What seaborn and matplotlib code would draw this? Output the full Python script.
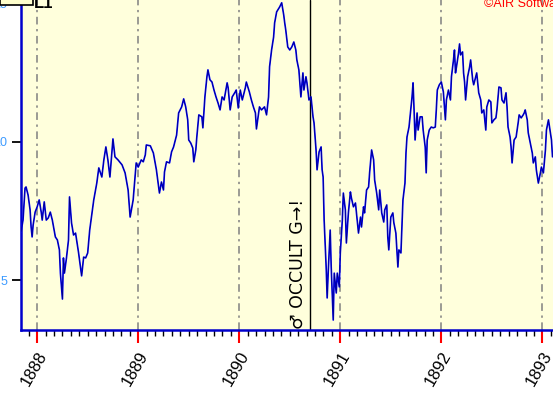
import numpy as np
import pandas as pd
import matplotlib
matplotlib.use('Agg')
import matplotlib.pyplot as plt
import seaborn as sns
from matplotlib.ticker import FixedLocator, MultipleLocator
from matplotlib.patches import Rectangle

sns.set_style('white')
plt.rcParams['font.family'] = ['Liberation Sans', 'DejaVu Sans']

# price series (decimal year, value)
years = [
    1887.84, 1887.86, 1887.88, 1887.89, 1887.91, 1887.93, 1887.94, 1887.95, 1887.96, 1887.98,
    1888.00, 1888.02, 1888.04, 1888.05, 1888.07, 1888.09, 1888.11, 1888.13, 1888.15, 1888.18,
    1888.20, 1888.22, 1888.23, 1888.25, 1888.26, 1888.27, 1888.29, 1888.31, 1888.32, 1888.34,
    1888.36, 1888.38, 1888.41, 1888.44, 1888.46, 1888.48, 1888.50, 1888.52, 1888.54, 1888.56,
    1888.59, 1888.61, 1888.64, 1888.66, 1888.68, 1888.70, 1888.72, 1888.75, 1888.77, 1888.80,
    1888.84, 1888.87, 1888.90, 1888.92, 1888.95, 1888.98, 1889.00, 1889.03, 1889.05, 1889.07,
    1889.08, 1889.12, 1889.15, 1889.18, 1889.21, 1889.23, 1889.25, 1889.26, 1889.28, 1889.31,
    1889.33, 1889.35, 1889.38, 1889.40, 1889.43, 1889.45, 1889.47, 1889.49, 1889.50, 1889.52,
    1889.54, 1889.55, 1889.57, 1889.58, 1889.60, 1889.63, 1889.64, 1889.66, 1889.68, 1889.69,
    1889.71, 1889.73, 1889.75, 1889.77, 1889.79, 1889.81, 1889.83, 1889.85, 1889.88, 1889.89,
    1889.91, 1889.93, 1889.96, 1889.97, 1889.99, 1890.01, 1890.03, 1890.06, 1890.07, 1890.10,
    1890.12, 1890.14, 1890.16, 1890.17, 1890.20, 1890.22, 1890.25, 1890.27, 1890.29, 1890.30,
    1890.32, 1890.34, 1890.35, 1890.37, 1890.40, 1890.42, 1890.44, 1890.45, 1890.46, 1890.48,
    1890.50, 1890.52, 1890.54, 1890.56, 1890.57, 1890.59, 1890.61, 1890.63, 1890.64, 1890.66,
    1890.67, 1890.69, 1890.71, 1890.73, 1890.74, 1890.76, 1890.77, 1890.79, 1890.81, 1890.82,
    1890.83, 1890.84, 1890.86, 1890.87, 1890.88, 1890.90, 1890.91, 1890.93, 1890.94, 1890.96,
    1890.97, 1890.99, 1891.00, 1891.02, 1891.03, 1891.05, 1891.06, 1891.08, 1891.10, 1891.11,
    1891.13, 1891.15, 1891.16, 1891.18, 1891.20, 1891.21, 1891.23, 1891.24, 1891.26, 1891.28,
    1891.29, 1891.31, 1891.33, 1891.34, 1891.36, 1891.38, 1891.39, 1891.41, 1891.43, 1891.44,
    1891.46, 1891.47, 1891.48, 1891.50, 1891.52, 1891.53, 1891.55, 1891.57, 1891.58, 1891.60,
    1891.62, 1891.64, 1891.65, 1891.66, 1891.68, 1891.71, 1891.72, 1891.73, 1891.74, 1891.76,
    1891.77, 1891.79, 1891.81, 1891.82, 1891.84, 1891.85, 1891.86, 1891.88, 1891.90, 1891.92,
    1891.94, 1891.95, 1891.96, 1891.98, 1892.00, 1892.02, 1892.04, 1892.05, 1892.07, 1892.09,
    1892.10, 1892.12, 1892.13, 1892.14, 1892.15, 1892.17, 1892.18, 1892.19, 1892.21, 1892.22,
    1892.23, 1892.24, 1892.26, 1892.28, 1892.29, 1892.31, 1892.32, 1892.34, 1892.35, 1892.37,
    1892.39, 1892.40, 1892.42, 1892.44, 1892.45, 1892.47, 1892.49, 1892.50, 1892.52, 1892.54,
    1892.55, 1892.57, 1892.59, 1892.60, 1892.62, 1892.64, 1892.65, 1892.66, 1892.68, 1892.69,
    1892.70, 1892.72, 1892.74, 1892.76, 1892.77, 1892.79, 1892.81, 1892.82, 1892.83, 1892.85,
    1892.86, 1892.88, 1892.90, 1892.91, 1892.93, 1892.94, 1892.96, 1892.98, 1892.99, 1893.01,
    1893.03, 1893.04, 1893.06, 1893.08, 1893.09, 1893.10,
]
values = [
    6.74, 7.17, 8.33, 8.37, 8.08, 7.54, 6.92, 6.56, 6.99, 7.46,
    7.65, 7.90, 7.46, 7.17, 7.83, 7.17, 7.25, 7.46, 7.17, 6.56,
    6.45, 6.09, 5.25, 4.31, 5.80, 5.25, 5.80, 6.45, 8.01, 7.07,
    6.63, 6.70, 5.98, 5.15, 5.83, 5.80, 5.98, 6.81, 7.36, 7.90,
    8.51, 9.06, 8.73, 9.35, 9.82, 9.35, 8.73, 10.11, 9.46, 9.35,
    9.17, 8.88, 8.26, 7.28, 7.90, 9.24, 9.09, 9.35, 9.28, 9.53,
    9.89, 9.86, 9.60, 8.99, 8.15, 8.55, 8.26, 8.91, 9.28, 9.24,
    9.64, 9.82, 10.25, 11.05, 11.27, 11.56, 11.27, 10.80, 10.07, 9.96,
    9.78, 9.28, 9.71, 10.18, 10.98, 10.91, 10.51, 11.63, 12.36, 12.61,
    12.25, 12.17, 11.88, 11.63, 11.41, 11.16, 11.63, 11.52, 12.14, 11.96,
    11.16, 11.63, 11.81, 11.88, 11.23, 11.88, 11.52, 11.96, 12.17, 11.81,
    11.52, 11.27, 11.05, 10.47, 11.27, 11.16, 11.27, 10.98, 11.63, 12.72,
    13.33, 13.80, 14.31, 14.71, 14.89, 15.04, 14.60, 14.31, 14.06, 13.44,
    13.33, 13.44, 13.62, 13.33, 12.97, 12.61, 11.63, 12.50, 11.88, 12.36,
    12.14, 11.52, 11.63, 10.91, 10.69, 9.71, 8.99, 9.64, 9.82, 8.99,
    8.73, 7.17, 5.47, 4.35, 5.25, 6.81, 5.47, 3.55, 5.25, 4.53,
    5.25, 4.75, 5.98, 7.17, 8.15, 7.54, 6.34, 7.43, 8.19, 7.97,
    7.65, 7.79, 7.43, 6.70, 7.28, 6.92, 7.65, 7.43, 8.26, 8.37,
    8.88, 9.71, 9.35, 8.62, 8.15, 7.54, 8.26, 7.43, 7.10, 7.54,
    7.72, 6.56, 6.09, 7.28, 7.43, 7.07, 6.70, 5.47, 6.09, 5.98,
    7.90, 8.51, 9.60, 10.18, 10.54, 11.63, 12.14, 11.16, 10.07, 11.05,
    10.43, 10.91, 10.91, 10.43, 9.82, 8.88, 10.07, 10.43, 10.54, 10.51,
    10.54, 11.16, 11.88, 12.07, 12.17, 11.81, 10.80, 11.52, 11.88, 11.52,
    12.36, 12.97, 13.33, 12.50, 12.72, 13.22, 13.55, 13.15, 13.26, 12.50,
    12.17, 11.52, 12.36, 12.72, 12.97, 12.25, 12.07, 12.36, 12.50, 11.78,
    11.52, 11.05, 11.16, 10.43, 11.27, 11.52, 11.45, 10.69, 10.80, 10.87,
    11.16, 11.99, 11.96, 11.52, 11.41, 11.78, 11.27, 10.54, 10.18, 9.82,
    9.24, 10.07, 10.18, 10.69, 10.98, 10.87, 10.98, 11.05, 11.16, 10.80,
    10.33, 9.96, 9.60, 9.24, 9.46, 8.99, 8.51, 8.88, 9.09, 8.88,
    9.71, 10.43, 10.80, 10.33, 10.07, 9.46,
]

year_ticks = [1888, 1889, 1890, 1891, 1892, 1893]
year_labels = ['1888', '1889', '1890', '1891', '1892', '1893']
value_ticks = [5, 10, 15]
value_labels = ['5', '10', '15']
event_year = 1890.70
event_label = '\u2642 OCCULT G\u2192!'

df = pd.DataFrame({'year': years, 'value': values})

fig = plt.figure(figsize=(5.53, 3.98), dpi=100)
ax = fig.add_axes([21 / 553, 68 / 398, 532 / 553, 330 / 398])
ax.set_facecolor('#ffffdc')

# yearly dashed grid
for yr in year_ticks:
    ax.axvline(yr, color='#808080', lw=1.1, linestyle=(0, (5, 3, 1.5, 3)), zorder=1)

sns.lineplot(data=df, x='year', y='value', ax=ax, color='#0000ff', lw=1.2,
             estimator=None, sort=False, zorder=3)
ax.plot(df['year'], df['value'], color='black', lw=0.4, alpha=0.6, zorder=4)

# event marker
ax.axvline(event_year, color='black', lw=1.0, zorder=2)
ax.annotate(event_label, xy=(event_year, 3.19), xytext=(-2, 1), textcoords='offset points',
            rotation=90, ha='right', va='bottom', fontsize=12.5, color='black',
            family=['DejaVu Sans'])

ax.set_xlim(1887.84, 1893.105)
ax.set_ylim(3.19, 15.14)
ax.set_xlabel('')
ax.set_ylabel('')

ax.xaxis.set_major_locator(FixedLocator(year_ticks))
ax.xaxis.set_minor_locator(MultipleLocator(1 / 12))
ax.set_xticklabels(year_labels, rotation=60, ha='right', va='top', rotation_mode='anchor',
                   fontsize=12)
ax.yaxis.set_major_locator(FixedLocator(value_ticks))
ax.set_yticklabels(value_labels, fontsize=9)

ax.tick_params(axis='x', which='major', direction='out', length=9.5, width=1.5,
               color='#ff0000', labelcolor='black', pad=4, bottom=True)
ax.tick_params(axis='x', which='minor', direction='out', length=4.5, width=1.0,
               color='black', bottom=True)
ax.tick_params(axis='y', which='major', direction='out', length=6.5, width=1.3,
               color='black', labelcolor='#3d9bff', pad=3.5, left=True)

for side in ['top', 'right']:
    ax.spines[side].set_visible(False)
for side in ['left', 'bottom']:
    ax.spines[side].set_color('#0000cc')
    ax.spines[side].set_linewidth(1.8)

# header bits cut by the top edge
fig.patches.append(Rectangle((0, 1 - 5 / 398), 33 / 553, 10 / 398, transform=fig.transFigure,
                             facecolor='#ffffcc', edgecolor='black', lw=1.2, zorder=10))
fig.text(34 / 553, 1 - 8 / 398, 'L1', fontsize=12, color='black', ha='left', va='baseline',
         fontweight='bold')
fig.text(484 / 553, 1 - 7 / 398, '\u00a9AIR Software', fontsize=9, color='#ff0000',
         ha='left', va='baseline')

fig.savefig('out.png', dpi=100)
